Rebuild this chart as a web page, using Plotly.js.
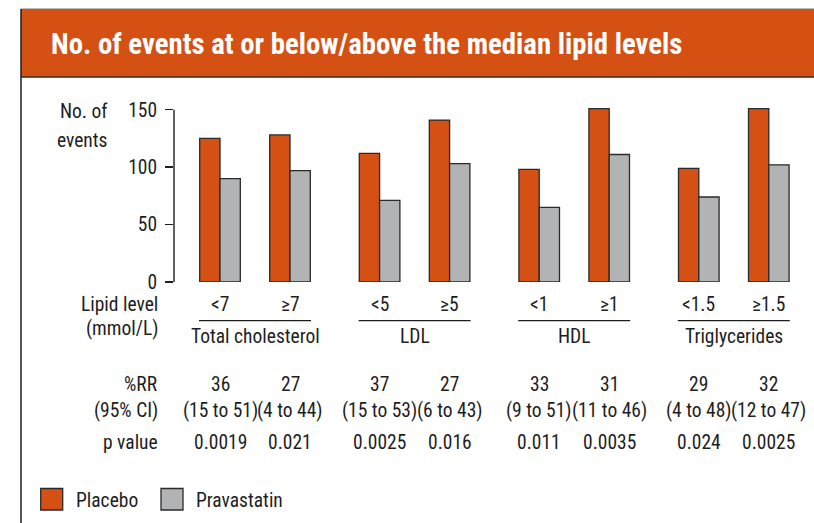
<!DOCTYPE html>
<html>
<head>
<meta charset="utf-8">
<script src="https://cdn.plot.ly/plotly-3.0.1.min.js"></script>
<style>
  html, body { margin: 0; padding: 0; background: #fff; }
  #chart { width: 814px; height: 523px; }
  /* condensed width of the variable Roboto face, applied to every svg text (incl. Plotly's measuring node) */
  svg text { font-stretch: 75% !important; }
</style>
</head>
<body>
<div id="chart"></div>
<script>
// ---------- data ----------
const categories = ['<7', '≥7', '<5', '≥5', '<1', '≥1', '<1.5', '≥1.5'];
const groupNames = ['Total cholesterol', 'LDL', 'HDL', 'Triglycerides'];
const placebo = [125, 128, 112, 141, 98, 151, 99, 151];
const pravastatin = [90, 97, 71, 103, 65, 111, 74, 102];
const rrValues = ['36', '27', '37', '27', '33', '31', '29', '32'];
const ciValues = ['(15 to 51)', '(4 to 44)', '(15 to 53)', '(6 to 43)', '(9 to 51)', '(11 to 46)', '(4 to 48)', '(12 to 47)'];
const pValues = ['0.0019', '0.021', '0.0025', '0.016', '0.011', '0.0035', '0.024', '0.0025'];
const yTickValues = [0, 50, 100, 150];
const seriesNames = ['Placebo', 'Pravastatin'];
const titleText = 'No. of events at or below/above the median lipid levels';
const yTitleLines = ['No. of', 'events'];
const rowLabels = ['Lipid level', '(mmol/L)', '%RR', '(95% CI)', 'p value'];

// ---------- styles / layout helpers ----------
const ORANGE = '#D45013';
const GREY = '#B2B3B5';
const INK = '#1e1e1e';
const FONT = 'Roboto, "Liberation Sans Narrow", "DejaVu Sans Condensed", sans-serif';
const FS = 19.5;

const W = 814, H = 523;
const M = {l: 174, r: 14, t: 108, b: 241};
const plotW = W - M.l - M.r, plotH = H - M.t - M.b;
const unitPx = 70;                       // pixels per x unit
const xFirstPx = 220;                    // pixel centre of first category
const xRange = [-(xFirstPx - M.l) / unitPx, -(xFirstPx - M.l) / unitPx + plotW / unitPx];
const yRange = [0, plotH / 1.1487];

// positions computed from index: extra gap between lipid pairs
const xPos = categories.map((c, i) => i + Math.floor(i / 2) * 0.28);

const px2x = px => (px - M.l) / plotW;           // pixel -> paper x
const py2y = py => (H - M.b - py) / plotH;       // pixel -> paper y

const traces = [
  {type: 'bar', name: seriesNames[0], x: xPos, y: placebo,
   marker: {color: ORANGE, line: {color: '#2a2a2a', width: 1.3}},
   showlegend: false, hoverinfo: 'y+name'},
  {type: 'bar', name: seriesNames[1], x: xPos, y: pravastatin,
   marker: {color: GREY, line: {color: '#2a2a2a', width: 1.3}},
   showlegend: false, hoverinfo: 'y+name'}
];

const annotations = [];
const shapes = [];
const txt = (text, x, xref, py, xanchor, extra) => Object.assign({
  text: text, x: x, xref: xref, y: py2y(py), yref: 'paper',
  xanchor: xanchor, yanchor: 'middle', showarrow: false,
  font: {family: FONT, size: FS, color: INK}
}, extra || {});

// y axis title (two lines, horizontal)
annotations.push(txt(yTitleLines[0], px2x(109), 'paper', 111, 'right'));
annotations.push(txt(yTitleLines[1], px2x(109), 'paper', 140, 'right'));

// row labels
const rowPy = [304, 328.5, 384, 410, 442];
rowLabels.forEach((r, i) => annotations.push(txt(r, px2x(160), 'paper', rowPy[i], 'right')));

// category / stats columns
categories.forEach((c, i) => {
  annotations.push(txt(c, xPos[i], 'x', 304, 'center'));
  annotations.push(txt(rrValues[i], xPos[i], 'x', 384, 'center'));
  annotations.push(txt(ciValues[i], xPos[i], 'x', 410, 'center'));
  annotations.push(txt(pValues[i], xPos[i], 'x', 442, 'center'));
});

// group names + separator lines
groupNames.forEach((g, k) => {
  const a = xPos[2 * k], b = xPos[2 * k + 1];
  annotations.push(txt(g, (a + b) / 2, 'x', 336, 'center'));
  shapes.push({type: 'line', xref: 'x', yref: 'paper',
    x0: a - 0.3, x1: b + 0.3, y0: py2y(320.7), y1: py2y(320.7),
    line: {color: INK, width: 1.3}});
});

// y axis line from 0 to 150
shapes.push({type: 'line', xref: 'paper', yref: 'y', x0: 0, x1: 0,
  y0: yTickValues[0], y1: yTickValues[yTickValues.length - 1],
  line: {color: INK, width: 1.4}});

// header band and frame
shapes.push({type: 'rect', xref: 'paper', yref: 'paper', layer: 'below',
  x0: px2x(21), x1: px2x(830), y0: py2y(77), y1: py2y(9),
  fillcolor: ORANGE, line: {width: 0}});
shapes.push({type: 'line', xref: 'paper', yref: 'paper',
  x0: px2x(21), x1: px2x(830), y0: py2y(8.5), y1: py2y(8.5),
  line: {color: '#bdbdbd', width: 1}});
shapes.push({type: 'line', xref: 'paper', yref: 'paper',
  x0: px2x(21), x1: px2x(830), y0: py2y(77), y1: py2y(77),
  line: {color: '#3b2a20', width: 1.6}});
shapes.push({type: 'line', xref: 'paper', yref: 'paper',
  x0: px2x(21), x1: px2x(21), y0: py2y(9), y1: py2y(530),
  line: {color: INK, width: 1.5}});

// legend (squares + labels)
const legendItems = [
  {color: ORANGE, x0: 40.7, textX: 74},
  {color: GREY, x0: 161, textX: 194}
];
legendItems.forEach((it, i) => {
  shapes.push({type: 'rect', xref: 'paper', yref: 'paper',
    x0: px2x(it.x0), x1: px2x(it.x0 + 22), y0: py2y(510), y1: py2y(488.5),
    fillcolor: it.color, line: {color: '#2a2a2a', width: 1.3}});
  annotations.push(txt(seriesNames[i], px2x(it.textX), 'paper', 500, 'left'));
});

const layout = {
  width: W, height: H,
  margin: Object.assign({autoexpand: false, pad: 0}, M),
  paper_bgcolor: '#ffffff', plot_bgcolor: '#ffffff',
  title: {
    text: '<b>' + titleText + '</b>',
    x: 51 / W, xanchor: 'left', xref: 'container',
    y: 1 - 44 / H, yanchor: 'middle', yref: 'container',
    font: {family: FONT, size: 28.8, color: '#ffffff'}
  },
  barmode: 'group', bargap: 0.42, bargroupgap: 0,
  showlegend: false,
  xaxis: {range: xRange, showgrid: false, zeroline: false, showline: false,
          showticklabels: false, ticks: '', fixedrange: true},
  yaxis: {range: yRange, showgrid: false, zeroline: false, showline: false,
          tickmode: 'array', tickvals: yTickValues, ticktext: yTickValues.map(String),
          ticks: 'outside', ticklen: 8, tickwidth: 1.4, tickcolor: INK,
          ticklabelstandoff: 4,
          tickfont: {family: FONT, size: FS, color: INK}, fixedrange: true},
  shapes: shapes,
  annotations: annotations
};

Plotly.newPlot('chart', traces, layout, {displayModeBar: false, staticPlot: true});
</script>
</body>
</html>
